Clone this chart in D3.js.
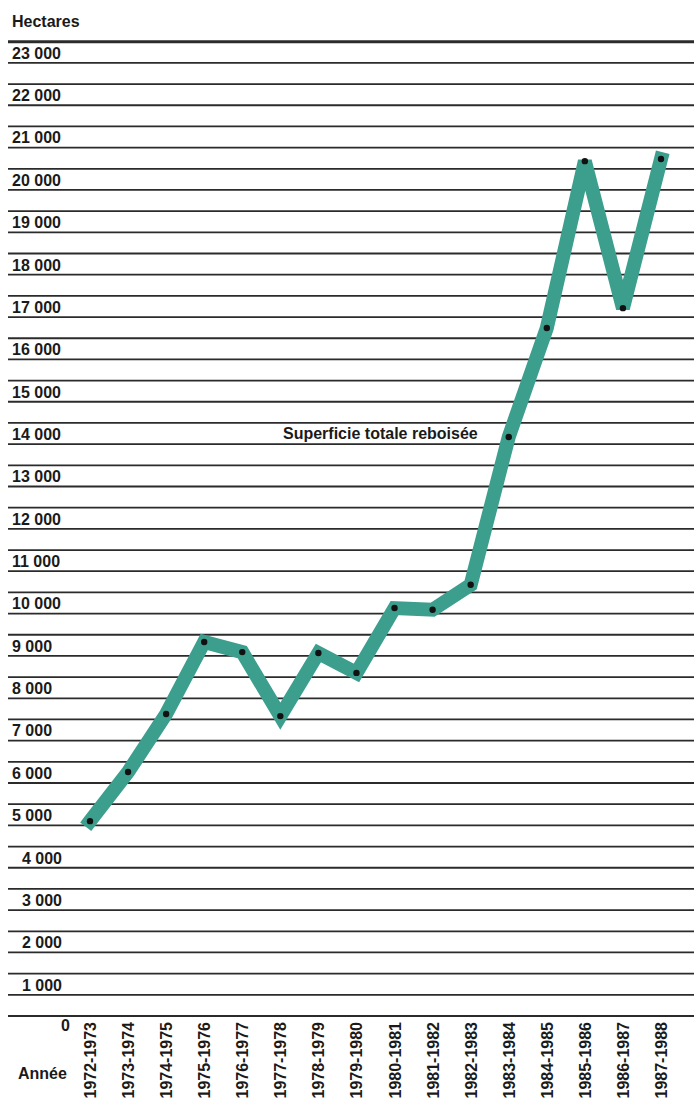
<!DOCTYPE html>
<html>
<head>
<meta charset="utf-8">
<script src="https://cdn.jsdelivr.net/npm/d3@7"></script>
<style>
  html, body { margin: 0; padding: 0; background: #ffffff; }
  svg { display: block; }
  text { font-family: "Liberation Sans", Arial, Helvetica, sans-serif; font-weight: bold; fill: #1a1a1a; }
</style>
</head>
<body>
<script>
// ---- Data ----
const years = ["1972-1973","1973-1974","1974-1975","1975-1976","1976-1977","1977-1978",
  "1978-1979","1979-1980","1980-1981","1981-1982","1982-1983","1983-1984",
  "1984-1985","1985-1986","1986-1987","1987-1988"];
const hectares = [4600, 5760, 7130, 8830, 8590, 7080, 8570, 8100, 9630, 9590, 10180,
  13670, 16240, 20180, 16710, 20230];
const tickValues = [1000,2000,3000,4000,5000,6000,7000,8000,9000,10000,11000,12000,
  13000,14000,15000,16000,17000,18000,19000,20000,21000,22000,23000];
const yLabel = "Hectares";
const xLabel = "Année";
const seriesLabel = "Superficie totale reboisée";

// ---- Layout ----
const W = 694, H = 1100;
const svg = d3.select("body").append("svg").attr("width", W).attr("height", H);

const y = d3.scaleLinear().domain([0, 23000]).range([1016, 41.7]);
const x = d3.scalePoint().domain(years).range([90, 661]);

const fmt = v => d3.format(",")(v).replace(/,/g, " ");

// y label
svg.append("text").attr("x", 12).attr("y", 27).style("font-size", "16px").text(yLabel);

// grid lines every 500
const gridVals = d3.range(0, 23001, 500);
svg.append("g").selectAll("line").data(gridVals).join("line")
  .attr("x1", 8).attr("x2", W)
  .attr("y1", d => y(d)).attr("y2", d => y(d))
  .attr("stroke", "#2b2b2b")
  .attr("stroke-width", d => d === 23000 ? 3 : 1.8);

// tick labels (hanging below their line)
svg.append("g").selectAll("text").data(tickValues).join("text")
  .attr("x", d => d >= 5000 ? 12 : 62)
  .attr("text-anchor", d => d >= 5000 ? "start" : "end")
  .attr("y", d => y(d) + 17)
  .style("font-size", "16px")
  .text(d => fmt(d));

svg.append("text").attr("x", 70).attr("y", y(0) + 15).attr("text-anchor", "end")
  .style("font-size", "16px").text("0");

// x labels
svg.append("text").attr("x", 18).attr("y", 1079).style("font-size", "16px").text(xLabel);
svg.append("g").selectAll("text").data(years).join("text")
  .attr("transform", d => `translate(${x(d) + 6},1022) rotate(-90)`)
  .attr("text-anchor", "end")
  .style("font-size", "16px")
  .text(d => d);

// ribbon line
const line = d3.line().x((d, i) => x(years[i])).y(d => y(d));
svg.append("path")
  .datum(hectares)
  .attr("d", line)
  .attr("fill", "none")
  .attr("stroke", "#3c9f8d")
  .attr("stroke-width", 14)
  .attr("stroke-linejoin", "miter")
  .attr("stroke-miterlimit", 3)
  .attr("stroke-linecap", "square");

// points
svg.append("g").selectAll("circle").data(hectares).join("circle")
  .attr("cx", (d, i) => x(years[i]))
  .attr("cy", d => y(d))
  .attr("r", 3.2)
  .attr("fill", "#111");

// series label
svg.append("text").attr("x", 283).attr("y", 439).style("font-size", "16px").text(seriesLabel);
</script>
</body>
</html>
